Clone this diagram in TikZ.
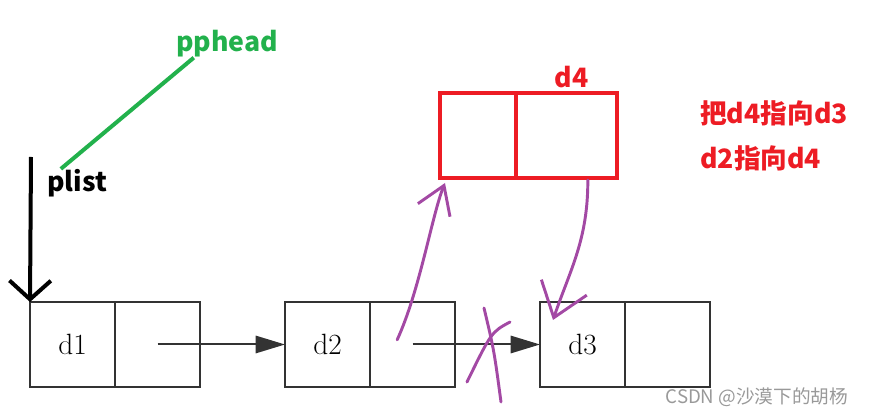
\documentclass[tikz,border=0pt]{standalone}
\usepackage{fontspec}
\newfontfamily\cjk{Noto Sans CJK SC}
\usetikzlibrary{arrows.meta,positioning}
\definecolor{pred}{RGB}{237,28,36}
\definecolor{pgreen}{RGB}{34,177,76}
\definecolor{ppurple}{RGB}{163,73,164}

\begin{document}
\begin{tikzpicture}[x=0.75pt, y=-0.75pt,
  cell/.style={draw=black!80, line width=1.5pt, minimum width=63.75pt, minimum height=63.75pt, inner sep=0pt, outer sep=0pt, font=\fontsize{22}{22}\selectfont},
  newcell/.style={draw=pred, line width=3pt, minimum height=63.75pt, inner sep=0pt, outer sep=0pt},
  lbl/.style={font=\cjk\bfseries\fontsize{20}{22}\selectfont, inner sep=0pt},
  ptr/.style={line width=1.5pt, draw=black!80, -{Triangle[length=22pt,width=13pt]}},
  pen/.style={draw=ppurple, line width=2.2pt, line cap=round, line join=round}]
\useasboundingbox (0,0) rectangle (869,416);
% the list d1 -> d2 -> d3
\node[cell] (d1) at (72.5,344.5) {d1};
\node[cell, right=0pt of d1] (p1) {};
\node[cell, right=63.75pt of p1] (d2) {d2};
\node[cell, right=0pt of d2] (p2) {};
\node[cell, right=63.75pt of p2] (d3) {d3};
\node[cell, right=0pt of d3] (p3) {};
\draw[ptr] (p1.center) -- (d2.west);
\draw[ptr] (p2.center) -- (d3.west);
% new node d4
\node[newcell, minimum width=57pt] (q4) at (478,135.5) {};
\node[newcell, minimum width=75.75pt, right=0pt of q4] (r4) {};
\node[lbl, text=pred, above=4pt of r4, xshift=4pt] (d4lbl) {d4};
\node[lbl, text=pred, anchor=west] (note1) at (700,113) {把d4指向d3};
\node[lbl, text=pred, anchor=west] (note2) at (700,158) {d2指向d4};
% head pointers
\node[lbl, text=pgreen] (pphead) at (227,44) {pphead};
\node[lbl] (plist) at (77,183) {plist};
\coordinate (ptop) at (31,157);
\draw[pgreen, line width=3pt] ([xshift=13.5pt]pphead.south west) -- ([xshift=10.5pt]plist.north west);
\draw[line width=3pt, -{Straight Barb[length=14pt,width=31pt]}] (ptop) -- (d1.north west);
% relinking
\draw[pen, -{Straight Barb[length=20pt,width=26pt]}] ([xshift=-11.5pt,yshift=3.5pt]p2.center) .. controls (420,290) and (432,215) .. ([xshift=3.75pt,yshift=-3.75pt]q4.south west);
\draw[pen, -{Straight Barb[length=24pt,width=36pt]}] ([xshift=16pt,yshift=-1.5pt]r4.south) .. controls (588,240) and (570,270) .. ([xshift=9.75pt,yshift=-13.5pt]d3.north west);
\draw[pen] (467,382) .. controls (491.5,332) .. (510,322);
\draw[pen] (484,308) .. controls (494,350) .. (501,402);
\node[font=\cjk\fontsize{14}{15}\selectfont, text=black!40, anchor=east] (mark) at (853,397) {CSDN @沙漠下的胡杨};
\end{tikzpicture}
\end{document}
